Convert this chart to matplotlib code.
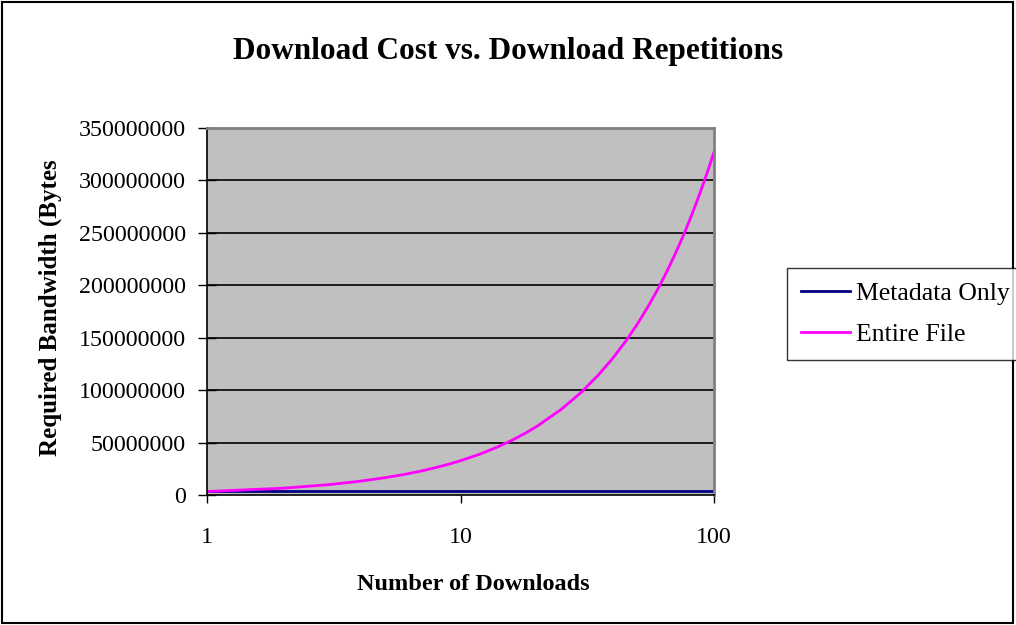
import matplotlib.pyplot as plt
from matplotlib.patches import Rectangle

# downloads vs bytes transferred
downloads = [1, 2, 3, 4, 5, 6, 7, 8, 9, 10, 12, 14, 16, 18, 20, 25, 30, 35, 40,
             45, 50, 55, 60, 65, 70, 75, 80, 85, 90, 95, 100]
entire_file = [3.3e6, 6.5e6, 9.8e6, 13.1e6, 16.4e6, 19.6e6, 22.9e6, 26.2e6, 29.4e6,
               32.7e6, 39.2e6, 45.8e6, 52.3e6, 58.9e6, 65.4e6, 81.8e6, 98.1e6,
               114.5e6, 130.8e6, 147.2e6, 163.5e6, 179.9e6, 196.2e6, 212.6e6,
               228.9e6, 245.3e6, 261.6e6, 278.0e6, 294.3e6, 310.7e6, 327.0e6]
metadata_only = [3.5e6] * len(downloads)

y_ticks = [0, 50000000, 100000000, 150000000, 200000000, 250000000, 300000000, 350000000]
x_ticks = [1, 10, 100]

plt.rcParams['font.family'] = ['Liberation Serif', 'DejaVu Serif']

fig = plt.figure(figsize=(10.16, 6.25), dpi=100)
fig.patches.append(Rectangle((0.002, 0.003), 0.995, 0.994, transform=fig.transFigure,
                             fill=False, edgecolor='black', linewidth=1.5))

ax = fig.add_axes([207 / 1016, 1 - 495 / 625, 507 / 1016, 367 / 625])
ax.set_facecolor('#C0C0C0')

ax.plot(downloads, metadata_only, color='#000080', linewidth=2, label='Metadata Only')
ax.plot(downloads, entire_file, color='#FF00FF', linewidth=2, label='Entire File')

ax.set_xscale('log')
ax.set_xlim(1, 100)
ax.set_ylim(0, 350000000)
ax.set_xticks(x_ticks)
ax.set_xticklabels([str(t) for t in x_ticks])
ax.xaxis.set_minor_locator(plt.NullLocator())
ax.set_yticks(y_ticks)
ax.set_yticklabels([str(t) for t in y_ticks])
ax.tick_params(axis='y', direction='inout', length=13, width=1, labelsize=17.3, pad=8.5)
ax.tick_params(axis='x', direction='out', length=6, width=1, labelsize=17.3, pad=17)

for y in y_ticks[1:-1]:
    ax.axhline(y, color='black', linewidth=1.2, zorder=1)

ax.spines['left'].set_color('black')
ax.spines['bottom'].set_color('black')
ax.spines['left'].set_linewidth(1.2)
ax.spines['bottom'].set_linewidth(1.2)
ax.spines['top'].set_color('#808080')
ax.spines['right'].set_color('#808080')
ax.spines['top'].set_linewidth(2)
ax.spines['right'].set_linewidth(2)

fig.text(0.5, 1 - 52 / 625, 'Download Cost vs. Download Repetitions', ha='center',
         va='center', fontsize=22.5, fontweight='bold')
fig.text(473 / 1016, 1 - 585 / 625, 'Number of Downloads', ha='center', va='center',
         fontsize=17.5, fontweight='bold')
fig.text(50 / 1016, 1 - 308 / 625, 'Required Bandwidth (Bytes', ha='center', va='center',
         rotation=90, fontsize=18, fontweight='bold')

leg = fig.legend(loc='upper left', bbox_to_anchor=(787 / 1016, 1 - 268 / 625),
                 fontsize=18.5, frameon=True, fancybox=False, edgecolor='black',
                 handlelength=1.9, handletextpad=0.25, borderpad=0.55, labelspacing=0.7,
                 borderaxespad=0)
leg.get_frame().set_linewidth(1)

fig.savefig('out.png', dpi=100)
